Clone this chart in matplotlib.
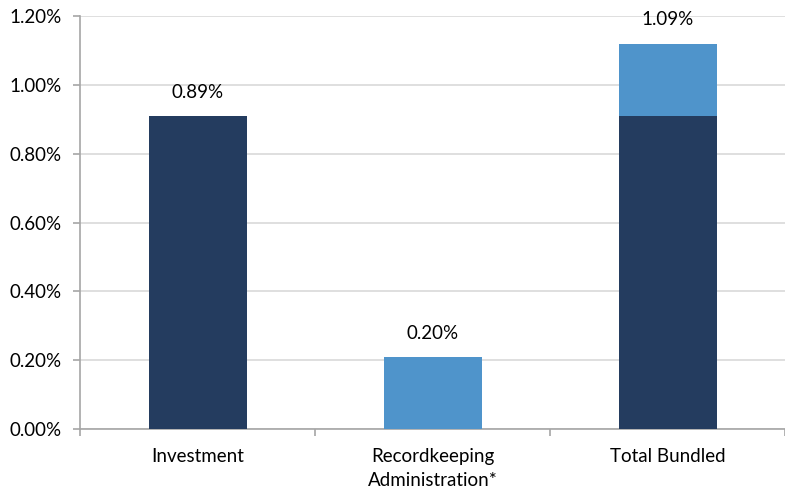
import numpy as np
import matplotlib.pyplot as plt
from matplotlib.ticker import FuncFormatter

# fee components (percent)
categories = ["Investment", "Recordkeeping\nAdministration*", "Total Bundled"]
investment = [0.91, 0.0, 0.91]
recordkeeping = [0.0, 0.21, 0.21]
labels = ["0.89%", "0.20%", "1.09%"]

dark = "#243C5F"
light = "#4F94CB"

plt.rcParams['font.family'] = ['Lato', 'DejaVu Sans']

fig = plt.figure(figsize=(7.85, 4.92), dpi=100)
ax = fig.add_axes([0.102, 0.128, 0.898, 0.8395])

x = np.arange(len(categories))
width = 0.417
ax.bar(x, investment, width, color=dark, zorder=3)
ax.bar(x, recordkeeping, width, bottom=investment, color=light, zorder=3)

tops = np.array(investment) + np.array(recordkeeping)
for xi, top, lab in zip(x, tops, labels):
    ax.annotate(lab, (xi, top), xytext=(0, 17), textcoords="offset points",
                ha="center", va="center", fontsize=13.5, color="#000000")

ax.set_xlim(-0.5, 2.5)
ax.set_ylim(0, 1.2)
ax.set_yticks(np.arange(0, 1.21, 0.2))
ax.yaxis.set_major_formatter(FuncFormatter(lambda v, p: f"{v:.2f}%"))
ax.grid(axis="y", color="#D9D9D9", linewidth=1.2, zorder=0)

# category labels centered, tick marks between categories
ax.set_xticks(x)
ax.set_xticklabels(categories, fontsize=13.5, linespacing=1.45)
ax.tick_params(axis="x", length=0, pad=14)
ax.set_xticks(np.arange(-0.5, 2.6, 1), minor=True)
ax.tick_params(axis="x", which="minor", length=5, color="#A6A6A6", width=1.2)
ax.tick_params(axis="y", length=5, color="#A6A6A6", width=1.2, labelsize=13.5, pad=8)

for side in ["top", "right"]:
    ax.spines[side].set_visible(False)
for side in ["left", "bottom"]:
    ax.spines[side].set_color("#A6A6A6")
    ax.spines[side].set_linewidth(1.2)

fig.savefig("out.png", dpi=100)
